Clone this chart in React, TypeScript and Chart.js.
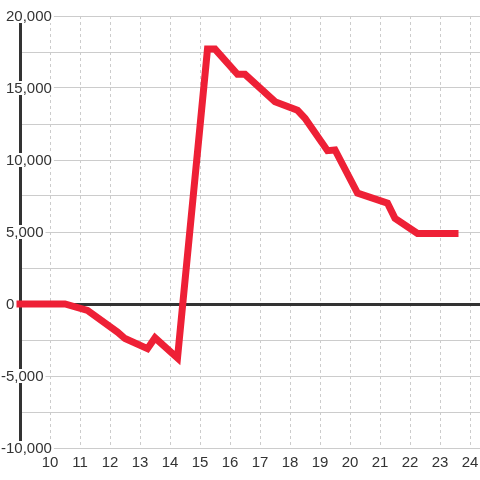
import React, { useEffect, useRef } from "react";
import { Chart, registerables } from "chart.js";

Chart.register(...registerables);

// Hours of the day (x) and values (y) of the red series
const HOURS = [9, 10.5, 11.25, 12.25, 12.5, 13.25, 13.5, 14.25, 15.25, 15.5, 16.25, 16.5, 17.5, 18.25, 18.5, 19.25, 19.5, 20.25, 21.25, 21.5, 22.25, 23.5];
const VALUES = [0, 0, -450, -1950, -2400, -3100, -2350, -3750, 17700, 17700, 15950, 15950, 14050, 13450, 12900, 10650, 10700, 7700, 7000, 5950, 4900, 4900];

// Axis ticks
const X_TICKS = [10, 11, 12, 13, 14, 15, 16, 17, 18, 19, 20, 21, 22, 23, 24];
const Y_GRID = [-10000, -7500, -5000, -2500, 0, 2500, 5000, 7500, 10000, 12500, 15000, 17500, 20000];
const Y_LABELS = [-10000, -5000, 0, 5000, 10000, 15000, 20000];

const FONT = '15px "Liberation Sans", Arial, Helvetica, sans-serif';
const TEXT_COLOR = "#333";
const GRID_COLOR = "#cccccc";
const LINE_COLOR = "#ee2036";

const fmt = (v: number) => v.toLocaleString("en-US");

const yLabelPlugin = {
  id: "yLabels",
  beforeDatasetsDraw(chart: any) {
    const y = chart.scales.y;
    const ctx = chart.ctx as CanvasRenderingContext2D;
    ctx.save();
    ctx.font = FONT;
    ctx.textBaseline = "middle";
    ctx.textAlign = "left";
    const minusW = ctx.measureText("-").width;
    const labelX = 6;
    Y_LABELS.forEach((v) => {
      const text = fmt(v);
      const py = y.getPixelForValue(v);
      const x0 = v < 0 ? labelX - minusW : labelX;
      const w = ctx.measureText(text).width;
      ctx.fillStyle = "#ffffff";
      ctx.fillRect(x0 - 2, py - 7, w + 4, 14);
      ctx.fillStyle = TEXT_COLOR;
      ctx.fillText(text, x0, py + 1);
    });
    ctx.restore();
  },
};

export default function App() {
  const ref = useRef<HTMLCanvasElement | null>(null);

  useEffect(() => {
    document.body.style.margin = "0";
    const canvas = ref.current;
    if (!canvas) return;
    const chart = new Chart(canvas, {
      type: "line",
      data: {
        datasets: [
          {
            data: HOURS.map((h, i) => ({ x: h, y: VALUES[i] })),
            borderColor: LINE_COLOR,
            borderWidth: 7,
            borderCapStyle: "square",
            borderJoinStyle: "miter",
            pointRadius: 0,
            tension: 0,
            fill: false,
            clip: false as any,
          },
        ],
      },
      options: {
        animation: false,
        responsive: false,
        devicePixelRatio: 1,
        layout: { padding: { left: 20, top: 16, right: 0, bottom: 0 } },
        plugins: { legend: { display: false }, tooltip: { enabled: false } },
        scales: {
          x: {
            type: "linear",
            min: 9,
            max: 24 + 1 / 3,
            afterBuildTicks: (s: any) => {
              s.ticks = X_TICKS.map((v) => ({ value: v }));
            },
            afterFit: (s: any) => {
              s.height = 32;
              s.paddingLeft = 0;
              s.paddingRight = 0;
              s.paddingTop = 0;
              s.paddingBottom = 0;
            },
            grid: { color: GRID_COLOR, lineWidth: 1, drawTicks: false },
            border: { display: false, dash: [3, 3] },
            ticks: {
              font: { family: '"Liberation Sans", Arial, Helvetica, sans-serif', size: 15 },
              color: TEXT_COLOR,
              padding: 6,
              maxRotation: 0,
              autoSkip: false,
              callback: (v: any) => String(v),
            },
          },
          y: {
            type: "linear",
            min: -10000,
            max: 20000,
            afterBuildTicks: (s: any) => {
              s.ticks = Y_GRID.map((v) => ({ value: v }));
            },
            afterFit: (s: any) => {
              s.width = 0;
              s.paddingLeft = 0;
              s.paddingRight = 0;
              s.paddingTop = 0;
              s.paddingBottom = 0;
            },
            grid: {
              drawTicks: false,
              color: (c: any) => (c.tick && c.tick.value === 0 ? "#333" : GRID_COLOR),
              lineWidth: (c: any) => (c.tick && c.tick.value === 0 ? 3 : 1),
            },
            border: { display: true, color: "#333", width: 3 },
            ticks: { display: false },
          },
        },
      },
      plugins: [yLabelPlugin],
    });
    return () => chart.destroy();
  }, []);

  return (
    <div style={{ position: "absolute", left: 0, top: 0, width: 480, height: 480 }}>
      <canvas ref={ref} width={480} height={480} />
    </div>
  );
}
